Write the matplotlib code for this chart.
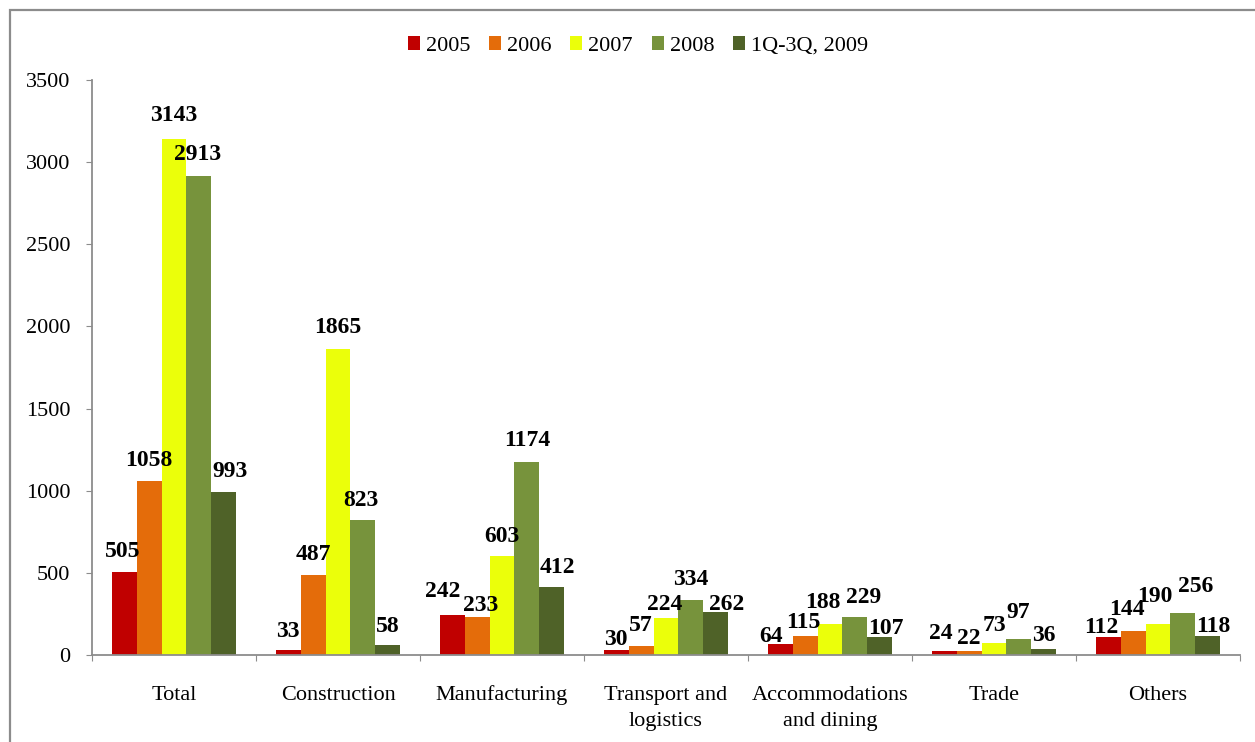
import matplotlib
matplotlib.use("Agg")
import matplotlib.pyplot as plt
import numpy as np
from matplotlib.patches import Rectangle

categories = ["Total", "Construction", "Manufacturing", "Transport and\nlogistics",
              "Accommodations\nand dining", "Trade", "Others"]
series_names = ["2005", "2006", "2007", "2008", "1Q-3Q, 2009"]
v2005 = [505, 33, 242, 30, 64, 24, 112]
v2006 = [1058, 487, 233, 57, 115, 22, 144]
v2007 = [3143, 1865, 603, 224, 188, 73, 190]
v2008 = [2913, 823, 1174, 334, 229, 97, 256]
v2009 = [993, 58, 412, 262, 107, 36, 118]
series_values = [v2005, v2006, v2007, v2008, v2009]
colors = ["#C00000", "#E46C0A", "#EBFF0A", "#77933C", "#4F6228"]
yticks = [0, 500, 1000, 1500, 2000, 2500, 3000, 3500]

# hand-placed data labels: (dx, dy) in pixels from the top centre of each bar
# to the visual centre of the label
label_nudges = [
    [(-1, 23), (0, 21), (-9, 26), (0, 13), (-9, 10), (-3, 20), (-7, 12)],
    [(0, 23), (0, 23), (4, 14), (0, 23), (-2, 16), (0, 15), (-6, 24)],
    [(0, 26), (0, 24), (0, 22), (-1, 16), (-7, 24), (0, 20), (-3, 30)],
    [(-1, 24), (-2, 22), (0, 24), (0, 23), (9, 22), (-1, 29), (13, 29)],
    [(6, 23), (0, 21), (6, 22), (11, 10), (6, 11), (0, 16), (5, 12)],
]

plt.rcParams["font.family"] = ["Liberation Serif", "DejaVu Serif"]

fig = plt.figure(figsize=(12.55, 7.42), dpi=100)
ax = fig.add_axes([92 / 1255, 1 - 655 / 742, (1240 - 92) / 1255, (655 - 80) / 742])

# outer chart-area frame
fig.patches.append(Rectangle((10 / 1255, -0.05), 1.1, 1 - 10 / 742 + 0.05,
                             transform=fig.transFigure, fill=False,
                             edgecolor="#8C8C8C", linewidth=1.6, zorder=0))

label_size = 17
half_digit = 0.676 * label_size * 100 / 72 / 2  # half the digit height in pixels

n = len(series_values)
x = np.arange(len(categories))
bw = 0.152
for i, (name, vals, c) in enumerate(zip(series_names, series_values, colors)):
    pos = x + (i - (n - 1) / 2) * bw
    bars = ax.bar(pos, vals, width=bw, color=c, label=name, zorder=2)
    for b, v, (dx, dy) in zip(bars, vals, label_nudges[i]):
        ax.annotate(str(v), (b.get_x() + b.get_width() / 2, v),
                    xytext=(dx, dy - half_digit), textcoords="offset pixels",
                    ha="center", va="baseline", fontsize=label_size,
                    fontweight="bold", zorder=3)

ax.set_xlim(-0.5, len(categories) - 0.5)
ax.set_ylim(0, 3500)
ax.set_yticks(yticks)
ax.set_yticklabels([str(t) for t in yticks], fontsize=16)
ax.tick_params(axis="y", direction="out", length=4.5, color="#8C8C8C", pad=11)

ax.set_xticks(np.arange(len(categories) + 1) - 0.5)
ax.set_xticklabels([])
ax.set_xticks(x, minor=True)
ax.set_xticklabels(categories, minor=True, fontsize=16, linespacing=1.55)
ax.tick_params(axis="x", which="major", direction="out", length=4.5, color="#8C8C8C")
ax.tick_params(axis="x", which="minor", length=0, pad=22)

for s in ["top", "right"]:
    ax.spines[s].set_visible(False)
for s in ["left", "bottom"]:
    ax.spines[s].set_color("#8C8C8C")
    ax.spines[s].set_linewidth(1.3)

handles, labels = ax.get_legend_handles_labels()
fig.legend(handles, labels, loc="center", bbox_to_anchor=(638 / 1255, 1 - 46 / 742),
           ncol=5, frameon=False, fontsize=16, handlelength=0.54, handleheight=0.54,
           handletextpad=0.27, columnspacing=0.85)

fig.savefig("out.png", dpi=100)
